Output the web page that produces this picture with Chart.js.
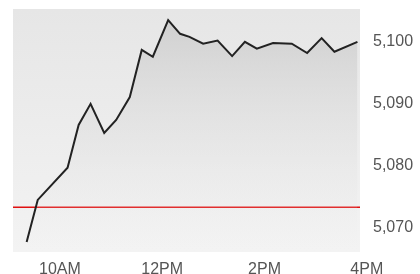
<!DOCTYPE html>
<html>
<head>
<meta charset="utf-8">
<script src="https://cdn.jsdelivr.net/npm/chart.js@4/dist/chart.umd.min.js"></script>
<style>
  html, body { margin: 0; padding: 0; background: #fff; overflow: hidden; }
  #wrap { width: 420px; height: 284px; }
</style>
</head>
<body>
<div id="wrap"><canvas id="myChart"></canvas></div>
<script>
// minutes since midnight
const times = [561, 574, 609, 622, 636, 652, 666, 682, 696, 709, 727, 741, 752, 768, 785, 802, 817, 831, 850, 872, 890, 907, 922, 949];
const values = [5067.7, 5074.5, 5079.7, 5086.6, 5090.0, 5085.3, 5087.4, 5091.1, 5098.7, 5097.6, 5103.5, 5101.3, 5100.8, 5099.7, 5100.2, 5097.7, 5100.0, 5098.9, 5099.8, 5099.7, 5098.2, 5100.6, 5098.4, 5100.0];
const prevClose = 5073.3;

const xTickValues = [600, 720, 840, 960];
const xTickLabels = ["10AM", "12PM", "2PM", "4PM"];
const yTickValues = [5070, 5080, 5090, 5100];
const yTickLabels = ["5,070", "5,080", "5,090", "5,100"];

const xMin = 545, xMax = 952;
const yMin = 5066.1, yMax = 5105.3;

// gray background of the plot area
const plotBackground = {
  id: "plotBackground",
  beforeDraw(chart) {
    const { ctx, chartArea: a } = chart;
    const g = ctx.createLinearGradient(0, a.top, 0, a.bottom);
    g.addColorStop(0, "#e6e6e6");
    g.addColorStop(1, "#f3f3f3");
    ctx.save();
    ctx.fillStyle = g;
    ctx.fillRect(a.left, a.top, a.right - a.left, a.bottom - a.top);
    ctx.restore();
  },
};

const lineFill = (context) => {
  const a = context.chart.chartArea;
  if (!a) return "rgba(210,210,210,0.6)";
  const g = context.chart.ctx.createLinearGradient(0, a.top, 0, a.bottom);
  g.addColorStop(0, "rgba(200,200,200,0.8)");
  g.addColorStop(1, "rgba(235,235,235,0)");
  return g;
};

const tickFont = { family: "'Liberation Sans', Arial, sans-serif", size: 16 };

new Chart(document.getElementById("myChart"), {
  type: "line",
  data: {
    datasets: [
      {
        data: times.map((t, i) => ({ x: t, y: values[i] })),
        borderColor: "#222",
        borderWidth: 2,
        pointRadius: 0,
        tension: 0,
        fill: "start",
        backgroundColor: lineFill,
      },
      {
        data: [{ x: xMin, y: prevClose }, { x: xMax, y: prevClose }],
        borderColor: "#e01010",
        borderWidth: 1.5,
        pointRadius: 0,
        fill: false,
      },
    ],
  },
  options: {
    responsive: true,
    maintainAspectRatio: false,
    animation: false,
    layout: { padding: { left: 13, top: 9, right: 0, bottom: 0 } },
    plugins: { legend: { display: false }, tooltip: { enabled: false } },
    scales: {
      x: {
        type: "linear",
        min: xMin,
        max: xMax,
        grid: { display: false, drawTicks: false },
        border: { display: false },
        afterBuildTicks: (scale) => {
          scale.ticks = xTickValues.map((v) => ({ value: v }));
        },
        afterFit: (scale) => {
          scale.height = 32;
          scale.paddingLeft = 0;
          scale.paddingRight = 0;
        },
        ticks: {
          autoSkip: false,
          maxRotation: 0,
          padding: 8,
          color: "#555",
          font: tickFont,
          callback: (v) => xTickLabels[xTickValues.indexOf(v)],
        },
      },
      y: {
        position: "right",
        min: yMin,
        max: yMax,
        grid: { display: false, drawTicks: false },
        border: { display: false },
        afterBuildTicks: (scale) => {
          scale.ticks = yTickValues.map((v) => ({ value: v }));
        },
        afterFit: (scale) => {
          scale.width = 60;
          scale.paddingTop = 0;
          scale.paddingBottom = 0;
        },
        ticks: {
          padding: 13,
          color: "#555",
          font: tickFont,
          callback: (v) => yTickLabels[yTickValues.indexOf(v)],
        },
      },
    },
  },
  plugins: [plotBackground],
});
</script>
</body>
</html>
